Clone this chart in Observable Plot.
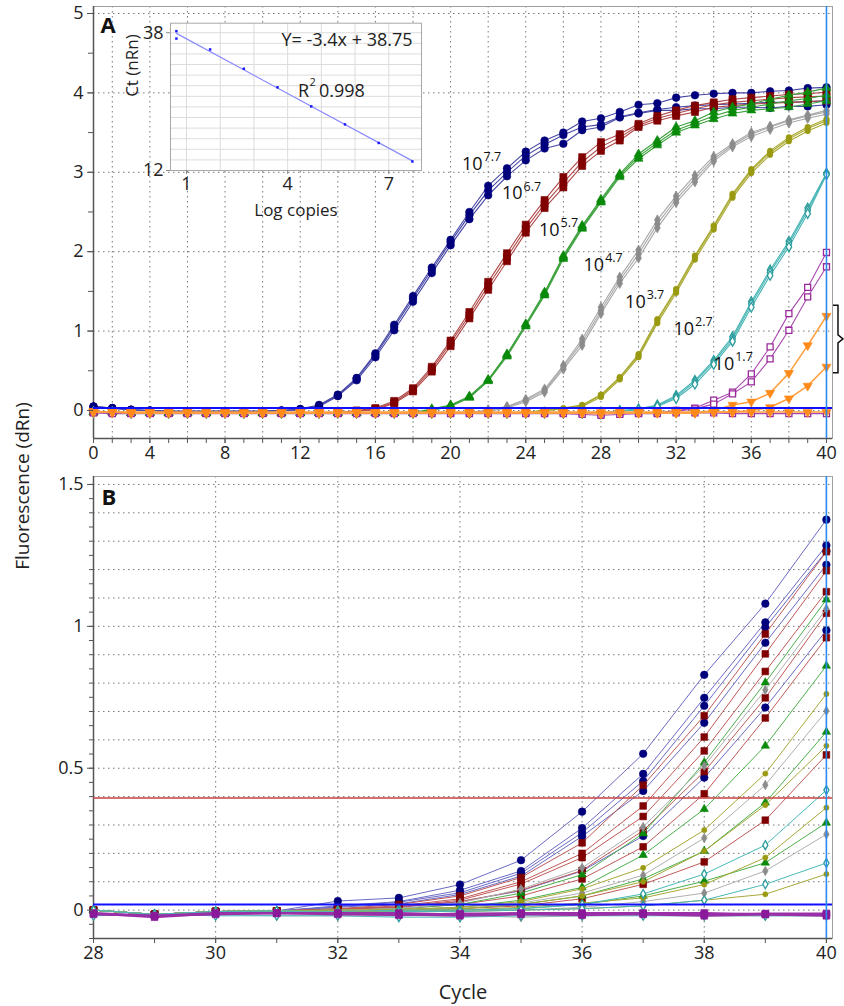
<!DOCTYPE html>
<html><head><meta charset="utf-8">
<script src="https://cdn.jsdelivr.net/npm/d3@7"></script>
<script src="https://cdn.jsdelivr.net/npm/@observablehq/plot@0.6"></script>
<style>
body{margin:0;background:#fff;}
#wrap{position:relative;width:844px;height:1006px;overflow:hidden;font-family:"Open Sans",sans-serif;color:#222;}
#ylab{position:absolute;left:22px;top:486px;transform:translate(-50%,-50%) rotate(-90deg);font-size:19px;white-space:nowrap;}
</style></head><body><div id="wrap"><div id="ylab">Fluorescence (dRn)</div></div>
<script>
// ================= DATA =================
// Panel A: cycles 1..40
const cycleA = d3.range(1, 41);
const xLabelsA = [0, 4, 8, 12, 16, 20, 24, 28, 32, 36, 40];
const baseA = [
 -0.02,-0.02,-0.03,-0.03,-0.03,-0.03,-0.03,-0.03,-0.03,-0.03,
 -0.03,-0.03,-0.03,-0.03,-0.03,-0.03,-0.03,-0.03,-0.03,-0.03,
 -0.03,-0.03,-0.03,-0.03,-0.03,-0.03,-0.03,-0.04,-0.03,-0.03,
 -0.03,-0.03,-0.03,-0.03,-0.03,-0.03,-0.03,-0.03,-0.03,-0.03];
const blueLeadA = [0.05,0.03,0.01,0.0,-0.01,-0.01,-0.01,-0.01,-0.01,-0.01,0.0];
const copies77A = [
 [0.02,0.07,0.2,0.41,0.72,1.08,1.44,1.8,2.15,2.5,2.83,3.05,3.26,3.4,3.5,3.64,3.68,3.76,3.85,3.87,3.94,3.97,3.99,4.0,4.0,4.02,4.03,4.06,4.07],
 [0.01,0.06,0.19,0.4,0.7,1.05,1.41,1.77,2.12,2.46,2.77,3.0,3.21,3.35,3.47,3.57,3.6,3.7,3.75,3.79,3.82,3.84,3.85,3.86,3.87,3.88,3.88,3.89,3.9],
 [0.01,0.05,0.18,0.38,0.67,1.01,1.37,1.73,2.08,2.41,2.71,2.95,3.15,3.3,3.36,3.53,3.57,3.69,3.74,3.78,3.78,3.8,3.8,3.82,3.82,3.81,3.83,3.83,3.85]];
const copies67A = [
 [0.0,0.03,0.12,0.28,0.55,0.88,1.24,1.62,1.98,2.34,2.65,2.94,3.19,3.38,3.48,3.61,3.71,3.78,3.84,3.88,3.92,3.94,3.96,3.98,3.99,4.01],
 [-0.01,0.02,0.1,0.26,0.52,0.85,1.2,1.57,1.93,2.29,2.6,2.87,3.13,3.32,3.44,3.59,3.68,3.74,3.8,3.85,3.88,3.9,3.92,3.94,3.95,3.96],
 [-0.01,0.01,0.09,0.24,0.49,0.81,1.16,1.52,1.88,2.24,2.55,2.81,3.08,3.27,3.4,3.57,3.65,3.71,3.76,3.82,3.84,3.86,3.87,3.88,3.89,3.9]];
const copies57A = [
 [0.02,0.07,0.18,0.39,0.71,1.09,1.49,1.95,2.33,2.66,2.98,3.23,3.4,3.57,3.65,3.76,3.82,3.86,3.92,3.97,4.01,4.06],
 [0.01,0.06,0.17,0.38,0.7,1.08,1.47,1.93,2.31,2.64,2.96,3.2,3.37,3.53,3.62,3.71,3.78,3.82,3.86,3.9,3.93,3.97],
 [0.0,0.05,0.16,0.37,0.68,1.06,1.45,1.91,2.29,2.62,2.94,3.17,3.34,3.5,3.59,3.67,3.74,3.78,3.8,3.82,3.86,3.9]];
const copies47A = [
 [0.01,0.05,0.14,0.27,0.57,0.9,1.3,1.68,2.02,2.4,2.7,2.96,3.2,3.36,3.5,3.58,3.66,3.72,3.78],
 [0.0,0.04,0.13,0.25,0.55,0.86,1.26,1.64,1.97,2.35,2.66,2.92,3.17,3.34,3.48,3.57,3.65,3.71,3.76],
 [-0.01,0.03,0.11,0.23,0.52,0.82,1.22,1.6,1.92,2.3,2.62,2.88,3.14,3.32,3.45,3.54,3.62,3.68,3.73]];
const copies37A = [
 [0.01,0.03,0.07,0.2,0.42,0.71,1.15,1.53,1.95,2.33,2.73,3.04,3.27,3.44,3.57,3.67],
 [0.0,0.02,0.06,0.19,0.41,0.69,1.13,1.51,1.93,2.31,2.71,3.02,3.25,3.42,3.55,3.65],
 [0.0,0.02,0.05,0.17,0.39,0.67,1.1,1.48,1.9,2.28,2.68,2.99,3.22,3.39,3.52,3.62]];
const copies27A = [
 [0.0,0.02,0.07,0.19,0.38,0.63,0.93,1.37,1.77,2.13,2.55,2.99],
 [-0.01,0.01,0.06,0.17,0.36,0.61,0.9,1.34,1.74,2.1,2.52,2.98],
 [-0.01,0.01,0.05,0.15,0.33,0.58,0.87,1.3,1.7,2.06,2.48,2.97]];
const purpleFlatA = [
 -0.03,-0.04,-0.04,-0.04,-0.04,-0.04,-0.04,-0.04,-0.04,-0.04,
 -0.04,-0.04,-0.04,-0.04,-0.04,-0.04,-0.04,-0.04,-0.04,-0.04,
 -0.04,-0.04,-0.04,-0.04,-0.04,-0.04,-0.05,-0.06,-0.05,-0.04,
 -0.04,-0.03,-0.03,-0.03,-0.04,-0.04,-0.04,-0.04,-0.04,-0.04];
const copies17A = [
 [0.0,0.03,0.13,0.23,0.46,0.8,1.22,1.55,1.99],
 [-0.01,0.02,0.08,0.21,0.36,0.65,1.01,1.43,1.81],
 purpleFlatA];
const orangeFlatA = [
 -0.01,-0.02,-0.02,-0.02,-0.02,-0.02,-0.02,-0.02,-0.02,-0.02,
 -0.02,-0.02,-0.02,-0.02,-0.02,-0.02,-0.02,-0.02,-0.02,-0.02,
 -0.02,-0.02,-0.02,-0.02,-0.02,-0.02,-0.02,-0.02,-0.02,-0.02,
 -0.02,-0.02,-0.02,-0.02,-0.02,-0.02,-0.02,-0.02,-0.02,-0.02];
const copies07A = [
 [0.0,0.07,0.11,0.22,0.47,0.82,1.19],
 [-0.02,-0.02,0.0,0.04,0.15,0.31,0.55],
 orangeFlatA];
const dilutionExps = ["7.7","6.7","5.7","4.7","3.7","2.7","1.7"];
const labelCycle = [21.7, 23.83, 25.8, 28.17, 30.38, 32.95, 35.09];
const labelValue = [3.10, 2.73, 2.27, 1.83, 1.36, 1.02, 0.58];
const thresholdA = 0.03;
const cursorCycle = 40;
const bracketRange = [0.47, 1.32];

// Inset: standard curve
const logCopies = [0.7, 0.7, 1.7, 2.7, 3.7, 4.7, 5.7, 6.7, 7.7];
const ctValues  = [38.3, 36.9, 34.85, 31.2, 27.7, 24.1, 20.7, 17.2, 13.7];
const equationText = "Y= -3.4x + 38.75";
const r2Text = "0.998";

// Panel B: cycles 28..40
const cycleB = d3.range(28, 41);
const baseB = [0.0, -0.015, -0.005, -0.003];
const blueB = [
 [0.032,0.043,0.09,0.176,0.347,0.551,0.829,1.08,1.376],
 [0.015,0.03,0.07,0.138,0.289,0.48,0.748,1.014,1.285],
 [0.012,0.028,0.061,0.13,0.273,0.455,0.72,0.996,1.265],
 [0.01,0.022,0.055,0.12,0.26,0.42,0.66,0.942,1.217],
 [0.005,0.01,0.03,0.068,0.138,0.261,0.467,0.714,0.986]];
const redB = [
 [0.005,0.02,0.05,0.115,0.237,0.44,0.685,0.973,1.263],
 [0.004,0.015,0.04,0.1,0.2,0.367,0.61,0.903,1.196],
 [0.003,0.012,0.035,0.092,0.185,0.33,0.561,0.841,1.122],
 [0.002,0.01,0.03,0.07,0.14,0.28,0.488,0.748,1.046],
 [0.0,0.005,0.02,0.05,0.11,0.223,0.41,0.677,0.96],
 [-0.005,0.0,0.005,0.015,0.04,0.091,0.17,0.317,0.547]];
const greenB = [
 [0.0,0.005,0.02,0.06,0.125,0.27,0.52,0.802,1.094],
 [0.0,0.002,0.01,0.035,0.08,0.194,0.356,0.579,0.861],
 [-0.005,0.0,0.005,0.02,0.05,0.11,0.208,0.379,0.628],
 [-0.005,-0.005,0.0,0.005,0.02,0.05,0.102,0.167,0.308]];
const grayB = [
 [0.0,0.005,0.025,0.074,0.149,0.293,0.508,0.776,1.062],
 [-0.005,0.0,0.01,0.025,0.06,0.123,0.254,0.441,0.702],
 [-0.01,-0.005,0.0,0.0,0.01,0.03,0.06,0.138,0.267]];
const oliveB = [
 [0.0,0.003,0.01,0.03,0.075,0.149,0.282,0.481,0.762],
 [-0.005,0.0,0.005,0.02,0.05,0.1,0.208,0.37,0.579],
 [-0.005,-0.005,0.0,0.01,0.025,0.043,0.09,0.185,0.361],
 [-0.01,-0.005,-0.005,0.0,0.005,0.015,0.035,0.056,0.127]];
const tealB = [
 [-0.005,0.0,0.0,0.005,0.02,0.057,0.127,0.229,0.423],
 [-0.01,-0.005,-0.005,0.0,0.005,0.015,0.035,0.091,0.166],
 [-0.02,-0.015,-0.02,-0.02,-0.02,-0.025,-0.025,-0.02,-0.02,-0.02,-0.02,-0.02,-0.02]];
const grayFlatB = [-0.01,-0.02,-0.015,-0.02,-0.02,-0.02,-0.02,-0.025,-0.02,-0.015,-0.02,-0.02,-0.02];
const purpleB = [
 [-0.01,-0.02,-0.01,-0.01,-0.01,-0.01,-0.015,-0.01,-0.01,-0.01,-0.01,-0.015,-0.015],
 [-0.015,-0.02,-0.015,-0.01,-0.015,-0.015,-0.02,-0.015,-0.015,-0.015,-0.02,-0.015,-0.02],
 [-0.012,-0.025,-0.012,-0.012,-0.012,-0.018,-0.012,-0.012,-0.018,-0.012,-0.015,-0.012,-0.012]];
const thresholdB = 0.02;
const thresholdRedB = 0.395;

// ================= STYLES / BUILD =================
const FONT = '"Open Sans", sans-serif';
const fmt = d => String(d);
const triangleDown = {draw(ctx, size) {
  const a = Math.sqrt(4 * size / Math.sqrt(3)), h = Math.sqrt(3) / 2 * a;
  ctx.moveTo(0, 2 * h / 3); ctx.lineTo(-a / 2, -h / 3); ctx.lineTo(a / 2, -h / 3); ctx.closePath();
}};
const wrap = document.getElementById("wrap");
function place(el, left, top) {
  el.style.position = "absolute"; el.style.left = left + "px"; el.style.top = top + "px";
  wrap.appendChild(el);
}
function rowsFor(key, reps, cycles, lead) {
  const out = [];
  reps.forEach((vals, k) => {
    const full = vals.length === cycles.length ? vals : lead.slice(0, cycles.length - vals.length).concat(vals);
    full.forEach((v, i) => out.push({id: key + "-" + k, cycle: cycles[i], v}));
  });
  return out;
}
function seriesMarks(rows, st, lw) {
  return [
    Plot.line(rows, {x: "cycle", y: "v", z: "id", stroke: st.line, strokeWidth: st.lw || lw}),
    Plot.dot(rows, {x: "cycle", y: "v", symbol: st.symbol, r: st.r,
      fill: st.open ? "white" : st.marker, stroke: st.marker, strokeWidth: st.open ? 1.3 : 0.6})
  ];
}

// ---------- Panel A ----------
const groupsA = [
  {key: "7.7", reps: copies77A, lead: blueLeadA, st: {marker: "#00007c", line: "#4646a6", symbol: "circle", r: 3.8}},
  {key: "6.7", reps: copies67A, lead: baseA, st: {marker: "#800000", line: "#b04848", symbol: "square", r: 4}},
  {key: "5.7", reps: copies57A, lead: baseA, st: {marker: "#0a8a0a", line: "#3aa03a", symbol: "triangle", r: 3.3}},
  {key: "4.7", reps: copies47A, lead: baseA, st: {marker: "#8c8c8c", line: "#a8a8a8", symbol: "diamond", r: 3.1}},
  {key: "3.7", reps: copies37A, lead: baseA, st: {marker: "#9a9a12", line: "#a8a830", symbol: "circle", r: 2.8}},
  {key: "2.7", reps: copies27A, lead: baseA, st: {marker: "#2a9c9c", line: "#46b4b4", symbol: "diamond", r: 2.9, open: true}},
  {key: "1.7", reps: copies17A, lead: baseA, st: {marker: "#9a2a9a", line: "#a848b0", symbol: "square", r: 3.4, open: true}},
  {key: "0.7", reps: copies07A, lead: baseA, st: {marker: "#ff8a1a", line: "#ffa040", symbol: triangleDown, r: 3.4, lw: 1.6}}
];
const labelsA = dilutionExps.map((e, i) => ({exp: e, cycle: labelCycle[i], v: labelValue[i]}));
const yDomA = [-0.353, 5.088];
const xDomA = [1, 40.32];
const gridDash = "1.5,3.5";
const marksA = [
  Plot.gridX({ticks: cycleA.filter(c => c % 2 === 0), stroke: "#777", strokeOpacity: 1, strokeDasharray: gridDash}),
  Plot.gridY({ticks: [0, 1, 2, 3, 4, 5], stroke: "#777", strokeOpacity: 1, strokeDasharray: gridDash}),
  Plot.frame({stroke: "#a0a0a0"}),
  Plot.ruleX([xDomA[0]], {stroke: "#555", strokeWidth: 1.5}),
  Plot.ruleY([yDomA[0]], {stroke: "#555", strokeWidth: 1.5})
];
for (const g of groupsA) marksA.push(...seriesMarks(rowsFor(g.key, g.reps, cycleA, g.lead), g.st, 1.1));
marksA.push(
  Plot.ruleY([thresholdA], {stroke: "#1010ff", strokeWidth: 2}),
  Plot.ruleX([cursorCycle], {stroke: "#2a8cf0", strokeWidth: 1.6}),
  Plot.axisX({ticks: cycleA, tickSize: 5, tickFormat: () => "", stroke: "#555", label: null}),
  Plot.axisX({ticks: xLabelsA.map(v => Math.max(v, cycleA[0])), tickSize: 5, tickPadding: 3,
    tickFormat: (d, i) => String(xLabelsA[i]), fontSize: 18, fill: "#222", stroke: "#555", label: null}),
  Plot.axisY({ticks: d3.range(0, 11).map(i => i / 2), tickSize: 5, tickFormat: () => "", stroke: "#555", label: null}),
  Plot.axisY({ticks: [0, 1, 2, 3, 4, 5], tickSize: 6, tickPadding: 4, tickFormat: fmt, fontSize: 18, fill: "#222", stroke: "#555", label: null}),
  Plot.text(labelsA, {x: "cycle", y: "v", text: () => "10", textAnchor: "end", fontSize: 18, fill: "#111"}),
  Plot.text(labelsA, {x: "cycle", y: "v", text: "exp", textAnchor: "start", dx: 1, dy: -7, fontSize: 12.5, fill: "#111"}),
  Plot.text(["A"], {frameAnchor: "top-left", dx: 7, dy: 19, fontSize: 22, fontWeight: "bold", fill: "#111", lineAnchor: "middle"})
);
const chartA = Plot.plot({
  width: 844, height: 470, marginLeft: 93, marginRight: 12, marginTop: 6, marginBottom: 32,
  x: {domain: xDomA}, y: {domain: yDomA},
  style: {fontFamily: FONT, fontSize: "18px", color: "#222", background: "transparent", overflow: "visible"},
  marks: marksA
});
place(chartA, 0, 0);
// bracket on right of panel A (annotation) positioned through the plot's scales
{
  const sx = chartA.scale("x"), sy = chartA.scale("y");
  const bx = sx.apply(cursorCycle) + 7;
  const yTop = sy.apply(bracketRange[1]), yBot = sy.apply(bracketRange[0]), yMid = (yTop + yBot) / 2;
  const p = document.createElementNS("http://www.w3.org/2000/svg", "path");
  p.setAttribute("d", `M${bx},${yTop}H${bx + 5}V${yMid - 4}L${bx + 10},${yMid}L${bx + 5},${yMid + 4}V${yBot}H${bx}`);
  p.setAttribute("fill", "none"); p.setAttribute("stroke", "#111"); p.setAttribute("stroke-width", "1.5");
  chartA.appendChild(p);
}

// ---------- Inset ----------
const insetData = logCopies.map((x, i) => ({x, ct: ctValues[i]}));
const chartIn = Plot.plot({
  width: 306, height: 215, marginLeft: 50, marginRight: 5, marginTop: 10.7, marginBottom: 57,
  x: {domain: [0.525, 7.97]}, y: {domain: [12, 39.8]},
  style: {fontFamily: FONT, fontSize: "18px", color: "#222", background: "transparent", overflow: "visible"},
  marks: [
    Plot.frame({fill: "white", stroke: null}),
    Plot.gridY({ticks: d3.range(6, 20).map(i => i * 2), stroke: "#dcdcdc", strokeOpacity: 1}),
    Plot.gridX({ticks: [1, 2, 3, 4, 5, 6, 7], stroke: "#dcdcdc", strokeOpacity: 1}),
    Plot.frame({stroke: "#a8a8a8"}),
    Plot.linearRegressionY(insetData, {x: "x", y: "ct", stroke: "#8a8aff", strokeWidth: 1.2, ci: 0}),
    Plot.dot(insetData, {x: "x", y: "ct", symbol: "square", r: 1.4, fill: "#1a1aff"}),
    Plot.axisY({ticks: [12, 38], tickSize: 4, tickPadding: 3, tickFormat: fmt, fontSize: 18, fill: "#222", stroke: "#888", label: null}),
    Plot.axisX({ticks: [1, 4, 7], tickSize: 4, tickPadding: 3, tickFormat: fmt, fontSize: 18, fill: "#222", stroke: "#888", label: null}),
    Plot.text(["Ct (nRn)"], {frameAnchor: "left", dx: -38, rotate: -90, fontSize: 17, fill: "#222"}),
    Plot.text(["Log copies"], {frameAnchor: "bottom", dy: 45, fontSize: 17, fill: "#222"}),
    Plot.text([equationText], {frameAnchor: "top", dx: 51, dy: 10, fontSize: 18, fill: "#222"}),
    Plot.text(["R"], {frameAnchor: "top", dx: 13, dy: 61, textAnchor: "end", fontSize: 18, fill: "#222"}),
    Plot.text(["2"], {frameAnchor: "top", dx: 13.5, dy: 55, textAnchor: "start", fontSize: 11, fill: "#222"}),
    Plot.text([r2Text], {frameAnchor: "top", dx: 23, dy: 61, textAnchor: "start", fontSize: 18, fill: "#222"})
  ]
});
place(chartIn, 120, 12);

// ---------- Panel B ----------
const groupsB = [
  {key: "b", reps: blueB, st: {marker: "#00007c", line: "#6a6ac4", symbol: "circle", r: 3.8}},
  {key: "r", reps: redB, st: {marker: "#800000", line: "#c05a5a", symbol: "square", r: 3.8}},
  {key: "g", reps: greenB, st: {marker: "#0a8a0a", line: "#4caf4c", symbol: "triangle", r: 3.1}},
  {key: "y", reps: grayB.concat([grayFlatB]), st: {marker: "#8c8c8c", line: "#b0b0b0", symbol: "diamond", r: 2.9}},
  {key: "o", reps: oliveB, st: {marker: "#9a9a12", line: "#a8a838", symbol: "circle", r: 2.6}},
  {key: "t", reps: tealB, st: {marker: "#2a9c9c", line: "#4ab8b8", symbol: "diamond", r: 2.7, open: true}},
  {key: "p", reps: purpleB, st: {marker: "#8a1a9a", line: "#9a30a8", symbol: "square", r: 3.8, lw: 2}}
];
const yDomB = [-0.1, 1.528];
const xDomB = [28, 40.1];
const marksB = [
  Plot.gridX({ticks: cycleB.filter(c => c % 2 === 0), stroke: "#777", strokeOpacity: 1, strokeDasharray: gridDash}),
  Plot.gridY({ticks: d3.range(-1, 16).map(i => i / 10), stroke: "#777", strokeOpacity: 1, strokeDasharray: gridDash}),
  Plot.frame({stroke: "#a0a0a0"}),
  Plot.ruleX([xDomB[0]], {stroke: "#555", strokeWidth: 1.5}),
  Plot.ruleY([yDomB[0]], {stroke: "#555", strokeWidth: 1.5})
];
for (const g of groupsB) {
  if (g.key === "p") marksB.push(Plot.ruleY([thresholdB], {stroke: "#1010ff", strokeWidth: 2}));
  marksB.push(...seriesMarks(rowsFor(g.key, g.reps, cycleB, baseB), g.st, 1));
}
marksB.push(
  Plot.ruleY([thresholdRedB], {stroke: "#c84040", strokeWidth: 1.6}),
  Plot.ruleX([cursorCycle], {stroke: "#2a8cf0", strokeWidth: 1.6}),
  Plot.axisX({ticks: cycleB, tickSize: 5, tickFormat: () => "", stroke: "#555", label: null}),
  Plot.axisX({ticks: cycleB.filter(c => c % 2 === 0), tickSize: 5, tickPadding: 3, tickFormat: fmt, fontSize: 18, fill: "#222", stroke: "#555", label: null}),
  Plot.axisY({ticks: d3.range(-2, 31).map(i => i / 20), tickSize: 4, tickFormat: () => "", stroke: "#555", label: null}),
  Plot.axisY({ticks: [0, 0.5, 1, 1.5], tickSize: 6, tickPadding: 4, tickFormat: fmt, fontSize: 18, fill: "#222", stroke: "#555", label: null}),
  Plot.text(["B"], {frameAnchor: "top-left", dx: 8, dy: 21, fontSize: 22, fontWeight: "bold", fill: "#111", lineAnchor: "middle"}),
  Plot.text(["Cycle"], {frameAnchor: "bottom", dy: 54, fontSize: 20, fill: "#222", lineAnchor: "middle"})
);
const chartB = Plot.plot({
  width: 844, height: 536, marginLeft: 93, marginRight: 12, marginTop: 6, marginBottom: 68,
  x: {domain: xDomB}, y: {domain: yDomB},
  style: {fontFamily: FONT, fontSize: "18px", color: "#222", background: "transparent", overflow: "visible"},
  marks: marksB
});
place(chartB, 0, 470);
</script>
</body></html>
